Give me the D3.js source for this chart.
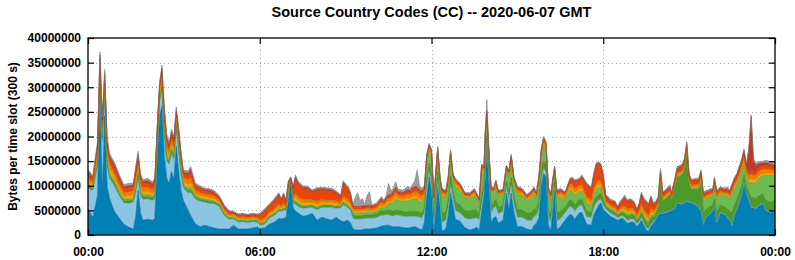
<!DOCTYPE html>
<html><head><meta charset="utf-8">
<script src="https://cdn.jsdelivr.net/npm/d3@7"></script>
<style>
body{margin:0;background:#fff}
svg{display:block}
text{font-family:"Liberation Sans",Arial,Helvetica,sans-serif;font-weight:bold;fill:#000}
</style>
</head><body>
<svg id="chart" width="795" height="260"></svg>
<script>
// time of each sample, minutes after 00:00 GMT
const times=[0,10,20,25,30,35,40,45,55,65,75,85,95,100,105,110,115,125,135,140,145,150,155,160,165,170,175,180,185,190,195,200,210,215,225,235,245,255,265,275,285,295,305,315,325,335,345,355,360,370,380,390,400,405,410,415,420,425,430,435,440,450,460,470,480,490,500,510,520,530,535,545,550,555,560,565,570,575,580,585,590,595,605,615,620,625,630,635,640,645,650,660,670,675,680,685,690,695,700,705,710,715,720,725,733,738,742,750,755,760,765,770,780,790,800,810,815,820,825,830,833,836,840,845,850,855,860,870,877,882,887,893,900,910,920,930,935,940,945,950,955,960,965,970,975,978,983,990,1000,1010,1015,1020,1030,1035,1045,1055,1060,1065,1070,1075,1080,1085,1095,1105,1110,1115,1120,1125,1130,1135,1140,1145,1150,1155,1160,1165,1170,1175,1180,1185,1190,1195,1200,1205,1215,1220,1223,1230,1235,1245,1250,1255,1260,1265,1275,1280,1285,1290,1295,1305,1310,1313,1318,1325,1335,1340,1345,1350,1355,1360,1365,1370,1375,1380,1385,1390,1395,1400,1405,1415,1420,1430,1440];

// series values, millions of bytes per 300 s slot (bottom layer first)
const s1DarkBlue=[5.4,3.5,8,28.4,8.5,24.2,10,7.5,4.8,3.5,
2.2,1.6,1.2,3.7,9.0,4.5,3.0,3.2,3.0,3.3,
15,24,26.1,16,11.5,10.5,12.9,11.2,18,13,
9,7.0,5.0,4.0,2.3,1.7,2.0,1.7,1.4,1.2,
1.2,1.2,2.0,1.2,1.2,1.2,1.4,1.6,1.3,1.4,
2.2,2.6,3.4,3.3,3.4,3.5,7.0,10.5,5.5,4.8,
4.5,3.8,4.0,4.4,3.0,3.6,3.3,3.0,3.6,2.9,
2.7,3.0,2.5,1.4,1.0,1.0,1.0,1.1,1.2,1.2,
1.2,1.3,1.4,1.8,1.9,2.0,2.0,1.8,1.7,1.7,
1.7,1.5,1.4,1.5,1.6,1.7,1.5,1.2,1.0,2.5,
8.0,11.8,9.0,0.7,9.8,5.5,0.8,1.2,4.0,8.5,
6.0,3.2,2.8,1.5,1.0,1.3,1.6,1.0,4.5,8.0,
12,17.3,11,2.4,3.5,3.7,2.4,3.0,8.5,5.1,
8.5,4.4,1.7,1.7,1.2,1.0,2.0,2.4,3.5,10,
12.5,11.8,2.0,0.7,6,9.0,1.0,1.7,3.0,4.2,
4.0,3.2,4.5,4.6,2.2,2.0,4.0,5.0,6.0,6.5,
5.2,4.7,3.8,3.3,3.0,3.2,3.4,3.0,2.4,2.5,
2.7,2.5,1.7,2.2,3.0,2.0,1.0,0.7,1.8,2.4,
3.0,4.0,4.3,4.3,4.6,4.8,4.9,5.3,6.4,6.2,
6.5,6.8,6.6,6.5,6.0,5.5,4.8,2.0,3.5,4.4,
4.8,5.8,2.4,4.4,4.1,3.5,3.0,1.8,4.0,5.1,
6.5,8.0,10.5,8.5,7.0,5.5,5.5,5.3,5.8,6.4,
5.0,4.5,5.0];
const s2LightBlue=[4.1,5.5,6,3.1,10.5,4.3,4,4,5.2,4.5,
4.3,4.8,5.4,4.8,2.5,3.5,4.2,4.1,4.0,4.0,
3,3,3.4,4,3.5,3.8,3.6,4.0,3.5,4,
3.5,2.5,3.5,4.6,5.0,5.1,4.6,4.7,4.9,4.6,
2.8,2.0,1.2,1.4,1.5,1.3,1.3,1.0,0.7,0.7,
1.2,1.3,1.4,1.5,1.6,1.5,1.5,0.5,1.0,1.4,
1.3,1.6,1.5,1.2,2.1,2.0,2.3,2.6,1.8,2.6,
3.4,2.5,2.6,2.0,2.2,2.2,2.2,2.2,2.1,2.2,
2.2,2.1,2.1,2.2,2.1,2.1,2.1,2.1,2.1,2.4,
2.3,2.3,2.3,2.3,2.2,2.1,2.2,2.4,2.4,2.0,
1.8,1.2,1.5,1.5,1.2,1.5,1.8,1.8,1.5,1.5,
1.5,1.8,1.7,1.9,2.2,2.1,1.9,2.0,1.5,1.2,
1,0.9,1,2.1,2.0,2.1,1.9,1.8,1.3,1.9,
1.5,1.8,1.9,1.9,1.8,1.9,1.8,1.6,2.0,1.5,
1.0,1.0,1.8,1.8,1.5,0.8,1.8,1.6,1.5,1.6,
1.6,1.6,1.5,1.4,1.5,1.5,1.5,1.5,1.0,0.8,
0.8,0.6,0.6,0.6,0.5,0.5,0.5,0.5,0.6,0.6,
0.6,0.6,0.5,0.5,0.5,0.5,0.5,0.5,0.4,0.3,
0.2,0.1,0.1,0.1,0.1,0.1,0.1,0.1,0.1,0.1,
0.1,0.1,0.1,0.1,0.1,0.1,0.1,0.1,0.1,0.1,
0.1,0.1,0.1,0.1,0.1,0.1,0.1,0.1,0.1,0.1,
0.1,0.1,0.1,0.1,0.1,0.1,0.1,0.1,0.1,0.1,
0.1,0.1,0.1];
const s3DarkGreen=[.5,.4,.6,.7,.6,.6,.7,.6,.6,.5,
.4,.5,.5,.7,.7,.5,.5,.5,.5,.5,
.5,.5,.6,.7,.7,.5,.6,.6,.5,.6,
.5,.4,.5,.6,.4,.4,.4,.4,.3,.3,
.3,.2,.2,.2,.2,.2,.2,.2,.2,.3,
.3,.3,.3,.2,.3,.2,.2,.1,.3,.4,
.4,.3,.3,.3,.3,.3,.3,.3,.3,.2,
.4,.3,.3,.7,.7,.7,.7,.7,.7,.7,
.7,.7,.8,.9,.8,.9,1.0,1.0,1.0,1.0,
1.0,1.0,1.0,1.0,1.0,1.0,1.0,1.0,1.0,1.0,
1.8,1.5,1.8,1.5,1.8,1.3,1.8,1.6,1.7,1.9,
1.3,1.7,1.6,1.5,1.6,1.7,1.4,1.3,2.2,1.2,
2.0,1.8,1.5,1.4,1.1,1.4,1.3,1.2,1.1,1.6,
1.6,1.5,1.6,1.5,1.4,1.6,1.5,1.2,1.6,1.5,
1.5,1.5,1.5,1.5,1.1,1.0,1.6,1.5,1.1,1.3,
1.3,1.3,1.2,1.2,1.2,1.1,1.1,1.2,1.2,1.1,
1.0,.6,.6,.6,.5,.6,.7,.8,.8,.8,
.8,.8,.7,.8,1.0,1.0,1.2,1.1,1.3,1.0,
1.1,1.5,5.6,2.4,3.0,3.2,1.9,4.0,5.2,5.8,
6.5,9.2,3.5,2.6,3.2,3.7,5.5,2.2,1.6,1.3,
1.2,1.5,2.0,1.5,1.5,1.7,1.7,2.6,2.0,2.0,
1.8,1.8,1.5,1.3,1.5,2.0,2.0,2.0,2.0,1.8,
2.0,2.0,2.0];
const s4LightGreen=[.4,.3,.5,.6,.5,.5,.6,.5,.5,.4,
.4,.4,.4,.5,.5,.5,.4,.4,.4,.4,
.4,.4,.5,.6,.5,.5,.5,.5,.5,.5,
.5,.4,.5,.5,.3,.3,.3,.3,.3,.2,
.2,.2,.2,.2,.2,.2,.2,.2,.2,.2,
.2,.2,.2,.2,.2,.1,.2,.1,.2,.3,
.3,.3,.2,.2,.3,.2,.2,.2,.2,.2,
.3,.3,.2,.5,.5,.5,.5,.5,.5,.5,
.5,.5,.5,.8,.6,.9,1.3,1.5,2.0,2.2,
2.0,2.0,2.3,2.1,2.4,2.6,2.6,2.2,2.2,2.0,
3.3,2.7,3.4,2.8,3.4,2.3,3.3,3.0,3.1,3.5,
2.4,3.1,2.9,2.6,2.6,2.9,2.4,2.1,4.0,2.2,
4.0,3.2,2.8,2.6,1.9,2.6,2.3,2.2,2.0,3.0,
3.0,2.7,3.0,2.9,2.5,3.0,2.9,2.2,3.1,2.8,
2.9,2.8,2.9,2.9,2.1,2.0,3.0,2.9,1.6,2.0,
2.0,2.0,1.6,1.7,1.6,1.4,1.4,1.5,1.4,1.2,
1.0,.3,.3,.3,.2,.3,.3,.4,.4,.4,
.4,.3,.3,.3,.4,.4,.4,.4,.4,.3,
.2,.2,.3,.2,.2,.2,.2,.2,.2,.2,
.2,.3,.3,.2,.2,.2,.4,2.6,2.2,2.0,
1.9,2.4,2.8,2.2,2.2,2.6,2.5,3.7,3.3,3.0,
2.8,2.6,2.2,1.8,2.0,3.0,3.0,3.2,3.5,3.8,
5.0,5.5,5.0];
const s5Yellow=[.6,.5,.9,1.0,.9,.9,1.0,.9,.8,.8,
.6,.7,.7,.9,.9,.8,.7,.7,.6,.7,
.7,.7,.9,1.0,.9,.8,.9,.8,.8,.9,
.8,.6,.8,.9,.5,.5,.5,.5,.5,.4,
.4,.3,.3,.3,.3,.3,.3,.3,.3,.4,
.4,.4,.5,.3,.5,.3,.3,.1,.5,.7,
.6,.6,.6,.5,.6,.5,.5,.5,.5,.3,
.6,.5,.5,.4,.4,.4,.4,.4,.4,.4,
.4,.3,.4,.5,.4,.5,.5,.5,.5,.6,
.5,.5,.6,.5,.6,.6,.6,.6,.6,.5,
.4,.3,.5,.4,.5,.3,.5,.4,.5,.5,
.4,.5,.4,.3,.3,.4,.3,.3,.6,.4,
.8,.6,.4,.3,.2,.4,.3,.3,.4,.4,
.5,.4,.4,.4,.3,.4,.4,.3,.5,.5,
.6,.5,.4,.4,.4,.4,.4,.5,.4,.6,
.6,.6,.6,.6,.6,.5,.6,.7,.7,.6,
.6,.4,.4,.4,.3,.4,.5,.6,.5,.5,
.5,.5,.4,.5,.7,.6,.7,.6,.7,.5,
.4,.4,.5,.3,.3,.3,.3,.3,.3,.3,
.3,.4,.3,.3,.3,.3,.4,.3,.3,.3,
.3,.3,.3,.3,.3,.3,.3,.4,.4,.4,
.5,.5,.5,.5,.6,.8,.6,.6,.6,.5,
.5,.5,.4];
const s6Orange=[.7,.6,.9,1.1,.9,1.0,1.2,1.0,.9,.8,
.7,.8,.7,1.0,1.0,.9,.8,.8,.7,.8,
.8,.8,.9,1.2,1.0,.9,.9,.9,.9,.9,
.9,.7,.9,1.0,.6,.6,.5,.6,.5,.4,
.4,.3,.3,.3,.3,.3,.3,.3,.4,.4,
.4,.5,.5,.4,.5,.3,.4,.1,.5,.8,
.7,.6,.6,.5,.6,.6,.5,.5,.5,.4,
.6,.6,.5,.4,.4,.4,.4,.4,.4,.4,
.4,.4,.4,.5,.4,.5,.6,.6,.7,.8,
.6,.6,.7,.7,.8,.8,.8,.8,.7,.6,
.5,.4,.5,.4,.5,.3,.5,.4,.5,.6,
.4,.5,.4,.3,.3,.4,.3,.3,.7,.4,
.8,.7,.5,.3,.3,.4,.3,.3,.4,.5,
.5,.4,.5,.4,.4,.5,.5,.4,.5,.5,
.6,.6,.5,.5,.4,.3,.5,.5,.5,.7,
.8,.8,.7,.7,.7,.6,.7,.8,.8,.7,
.7,.4,.4,.4,.3,.4,.5,.6,.6,.6,
.5,.5,.4,.5,.7,.7,.7,.7,.8,.5,
.5,.4,.6,.4,.4,.4,.3,.4,.4,.4,
.5,.6,.5,.4,.5,.5,.6,.4,.3,.3,
.3,.5,.4,.4,.4,.4,.4,.5,.6,.6,
.8,.9,1.0,.8,.8,1.0,.9,.9,.9,.8,
.8,.7,.6];
const s7RedOrange=[.8,.6,1.0,1.1,1.0,1.0,1.2,1.0,1.0,.9,
.8,.8,.8,1.1,1.1,.9,.8,.9,.8,.9,
.8,.8,1.0,1.2,1.1,.9,1.0,1.0,.9,1.0,
.9,.8,.9,1.1,.7,.7,.6,.6,.5,.4,
.4,.4,.3,.3,.3,.3,.3,.3,.8,1.3,
1.1,1.4,1.7,1.1,1.5,.9,1.0,.2,1.4,3.0,
2.5,2.2,2.1,1.5,2.1,1.9,1.9,1.8,1.5,1.1,
2.4,2.0,1.6,.4,.4,.4,.4,.4,.4,.4,
.4,.4,.4,.5,.4,.5,.5,.5,.6,.7,
.5,.5,.6,.6,.7,.7,.7,.7,.7,.6,
.3,.3,.4,.3,.4,.3,.4,.3,.3,.4,
.2,.3,.3,.2,.2,.3,.2,.2,.5,.2,
.6,.5,.3,.3,.2,.3,.3,.2,.2,.3,
.4,.3,.4,.3,.3,.3,.3,.2,.4,.4,
.5,.4,.3,.3,.2,.2,.4,.4,.4,.7,
1.0,1.2,1.0,1.5,2.3,2.2,2.7,3.3,3.2,3.0,
2.6,.8,.7,.8,.6,.9,1.0,1.5,1.3,1.4,
1.2,1.1,.9,1.1,1.8,1.7,1.9,1.8,2.0,1.1,
.9,.7,1.4,.6,.6,.7,.5,.7,.8,.8,
.9,1.0,.7,.7,.7,.7,.9,.6,.5,.5,
.4,.7,.6,.5,.5,.6,.6,.8,.8,.8,
.9,1.0,1.1,.8,.7,.8,.8,.8,.8,.7,
.8,.7,.6];
const s8DarkRed=[.4,.3,.5,.6,.5,.5,.6,.5,.5,.5,
.4,.4,.4,.6,.6,.4,.4,.4,.4,.4,
.4,.4,.5,.6,.6,.4,.5,.5,.4,.5,
.4,.4,.4,.6,.3,.3,.3,.3,.3,.2,
.2,.2,.1,.2,.2,.2,.2,.2,.2,.3,
.2,.3,.3,.2,.3,.2,.2,.1,.3,.4,
.3,.3,.3,.3,.3,.3,.3,.3,.3,.2,
.3,.3,.3,.2,.2,.2,.2,.2,.2,.2,
.2,.2,.2,.2,.2,.2,.2,.2,.3,.3,
.2,.2,.3,.3,.3,.3,.3,.3,.3,.3,
.1,.1,.1,.1,.1,.1,.1,.1,.1,.1,
.1,.1,.1,.1,.1,.1,.1,.1,.2,.1,
.3,.2,.2,.1,.1,.1,.1,.1,.1,.1,
.1,.1,.1,.1,.1,.1,.1,.1,.1,.1,
.1,.1,.1,.1,.1,.1,.1,.1,.1,.1,
.2,.2,.1,.2,.2,.2,.2,.3,.3,.3,
.3,.2,.2,.2,.2,.2,.2,.3,.2,.3,
.2,.2,.2,.2,.3,.3,.3,.3,.3,.2,
.2,.2,.3,.2,.2,.2,.2,.2,.2,.2,
.2,.3,.2,.2,.2,.2,.2,.2,.2,.2,
.2,.2,.2,.1,.1,.2,.2,.2,.2,.2,
.3,.3,.3,.4,4.5,10.8,2.2,1.2,.8,.5,
.5,.4,.4];
const s9Gray=[.4,.3,.6,.6,.6,.6,.7,.6,.5,.5,
.4,.5,.4,.7,.7,.5,.4,.5,.4,.5,
.4,.4,.6,.7,.7,.5,.6,.5,.5,.6,
.5,.4,.5,.6,.4,.4,.3,.3,.3,.3,
.3,.2,.2,.2,.2,.2,.2,.2,.3,.3,
.3,.3,.3,.2,.3,.2,.2,.1,.3,.4,
.4,.3,.3,.3,.3,.3,.3,.3,.3,.2,
.3,.3,.3,.3,1.7,2.8,1.2,1.5,.3,2.0,
2.8,.2,.3,.4,.3,.4,2.3,.8,.6,1.1,
.5,.5,.6,.5,.6,1.2,3.5,.6,.6,.5,
.3,.3,.3,.3,.3,.2,.3,.3,.3,.3,
.2,.3,.3,.3,.3,.3,.3,.2,.3,.2,
.5,2.3,.3,.3,.2,.2,.2,.2,.2,.3,
.3,.2,.3,.3,.2,.3,.3,.2,.3,.2,
.3,.3,.3,.3,.2,.2,.3,.3,.2,.3,
.3,.3,.3,.3,.3,.3,.3,.3,.3,.3,
.3,.3,.3,.3,.2,.3,.3,.4,.3,.3,
.3,.3,.3,.3,.3,.3,.3,.3,.3,.3,
.3,.3,.4,.2,.3,.3,.2,.3,.3,.3,
.3,.3,.3,.3,.3,.3,.3,.3,.3,.3,
.3,.3,.3,.3,.3,.4,.3,.4,.4,.3,
.3,.3,.3,.3,.3,.4,.4,.4,.4,.4,
.5,.5,.5];

const seriesList=[s1DarkBlue,s2LightBlue,s3DarkGreen,s4LightGreen,s5Yellow,s6Orange,s7RedOrange,s8DarkRed,s9Gray];
const seriesColors=["#0080b4","#8cc5e3","#4c9a2c","#6cba50","#f7a600","#f07c00","#e8460a","#c0392b","#9c9c9c"];
const yTickValues=[0,5000000,10000000,15000000,20000000,25000000,30000000,35000000,40000000];
const xTickMinutes=[0,360,720,1080,1440];
const xTickLabels=["00:00","06:00","12:00","18:00","00:00"];
const titleText="Source Country Codes (CC) -- 2020-06-07 GMT";
const yAxisTitle="Bytes per time slot (300 s)";

seriesList.forEach((s,i)=>{ if(s.length!==times.length) throw new Error("series "+(i+1)+" length "+s.length+" vs "+times.length); });

const svg=d3.select("#chart");
const L=88,R=775,T=38,B=235;
const x=d3.scaleLinear().domain([0,1440]).range([L,R]);
const y=d3.scaleLinear().domain([0,40000000]).range([B,T]);

// table for stacking
const rows=times.map((t,i)=>{const r={t}; seriesList.forEach((s,k)=>{r["k"+k]=s[i]*1e6;}); return r;});
const keys=seriesList.map((s,k)=>"k"+k);
const stacked=d3.stack().keys(keys)(rows);

// grid
const grid=svg.append("g").attr("stroke","#a8a8a8").attr("stroke-width",1).attr("stroke-dasharray","1,3");
yTickValues.filter(v=>v>0&&v<40000000).forEach(v=>{
  grid.append("line").attr("x1",L).attr("x2",R).attr("y1",Math.round(y(v))+0.5).attr("y2",Math.round(y(v))+0.5);
});
xTickMinutes.filter(m=>m>0&&m<1440).forEach(m=>{
  grid.append("line").attr("y1",T).attr("y2",B).attr("x1",Math.round(x(m))+0.5).attr("x2",Math.round(x(m))+0.5);
});

const area=d3.area().x(d=>x(d.data.t)).y0(d=>y(d[0])).y1(d=>y(d[1]));
const line=d3.line().x(d=>x(d.data.t)).y(d=>y(d[1]));
const layers=svg.append("g");
stacked.forEach((layer,k)=>{
  layers.append("path").attr("d",area(layer)).attr("fill",seriesColors[k]);
});
stacked.forEach((layer,k)=>{
  layers.append("path").attr("d",line(layer)).attr("fill","none")
    .attr("stroke",d3.color(seriesColors[k]).darker(0.6)).attr("stroke-width",0.8).attr("stroke-opacity",0.8);
});

// axes
const yAxis=d3.axisLeft(y).tickValues(yTickValues).tickFormat(d3.format("d")).tickSize(-6).tickPadding(7);
const gy=svg.append("g").attr("transform",`translate(${L},0)`).call(yAxis);
const gyR=svg.append("g").attr("transform",`translate(${R},0)`).call(d3.axisRight(y).tickValues(yTickValues).tickSize(-6).tickFormat(""));
const xAxis=d3.axisBottom(x).tickValues(xTickMinutes).tickFormat((d,i)=>xTickLabels[i]).tickSize(-6).tickPadding(12);
const gx=svg.append("g").attr("transform",`translate(0,${B})`).call(xAxis);
const gxT=svg.append("g").attr("transform",`translate(0,${T})`).call(d3.axisTop(x).tickValues(xTickMinutes).tickSize(-6).tickFormat(""));
[gy,gyR,gx,gxT].forEach(g=>{g.select(".domain").remove(); g.selectAll("line").attr("stroke","#000").attr("stroke-width",1.2);});
svg.selectAll(".tick text").attr("font-size","12px").attr("font-family",null);

svg.append("rect").attr("x",L).attr("y",T).attr("width",R-L).attr("height",B-T)
  .attr("fill","none").attr("stroke","#000").attr("stroke-width",1.3);

svg.append("text").attr("x",(L+R)/2).attr("y",17).attr("text-anchor","middle").attr("font-size","14.5px").text(titleText);
svg.append("text").attr("transform",`translate(17,${(T+B)/2}) rotate(-90)`).attr("text-anchor","middle").attr("font-size","12px").text(yAxisTitle);
</script>
</body></html>
